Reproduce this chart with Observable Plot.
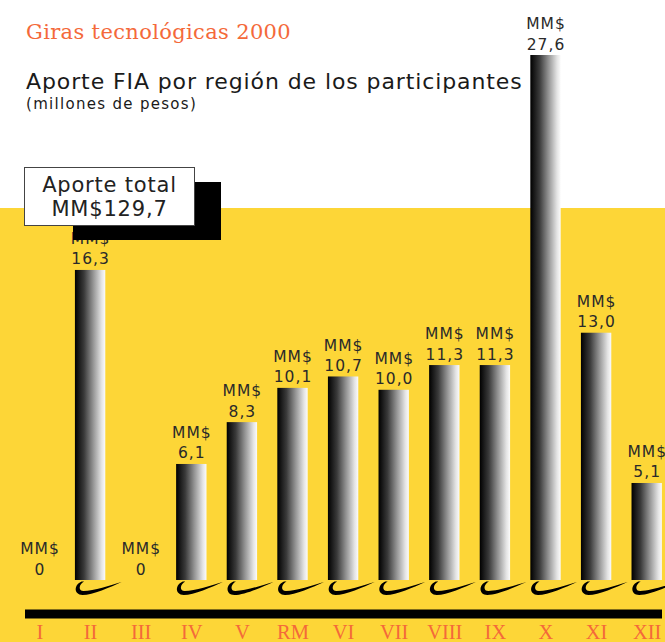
<!DOCTYPE html>
<html>
<head>
<meta charset="utf-8">
<script src="https://cdn.jsdelivr.net/npm/d3@7"></script>
<script src="https://cdn.jsdelivr.net/npm/@observablehq/plot@0.6"></script>
<style>
  body { margin: 0; background: #fff; }
  #wrap { position: relative; width: 665px; height: 642px; overflow: hidden; background: #fff; }
  #yellow { position: absolute; left: 0; top: 208px; width: 665px; height: 434px; background: #FDD637; }
  #wrap svg { position: absolute; left: 0; top: 0; }
  .abs { position: absolute; white-space: nowrap; line-height: 1; }
  #title { left: 26px; top: 22px; font-family: "DejaVu Serif", serif; font-size: 21px; letter-spacing: 0.35px; color: #F4693A; }
  #subtitle { left: 26px; top: 71px; font-family: "DejaVu Sans", sans-serif; font-size: 22px; letter-spacing: 0.9px; color: #1a1a1a; }
  #unit { left: 26px; top: 97px; font-family: "DejaVu Sans", sans-serif; font-size: 15px; letter-spacing: 1.3px; color: #1a1a1a; }
  #shadow { position: absolute; left: 73px; top: 182px; width: 148px; height: 58px; background: #000; }
  #box { position: absolute; left: 24px; top: 167px; width: 169px; background: #fff; border: 1px solid #444;
         font-family: "DejaVu Sans", sans-serif; font-size: 21px; color: #222; text-align: center; line-height: 24px;
         letter-spacing: 0.8px; padding-top: 5px; box-sizing: content-box; height: 52px; }
  .vlabel { letter-spacing: 1px; }
</style>
</head>
<body>
<div id="wrap">
  <div id="yellow"></div>
</div>
<script>
// ---- data ----
const regions = ["I","II","III","IV","V","RM","VI","VII","VIII","IX","X","XI","XII"];
const values  = [0, 16.3, 0, 6.1, 8.3, 10.1, 10.7, 10.0, 11.3, 11.3, 27.6, 13.0, 5.1];
const valueLabels = ["0","16,3","0","6,1","8,3","10,1","10,7","10,0","11,3","11,3","27,6","13,0","5,1"];
const unitPrefix = "MM$";
const titleText = "Giras tecnológicas 2000";
const subtitleText = "Aporte FIA por región de los participantes";
const unitText = "(millones de pesos)";
const totalLines = ["Aporte total", "MM$129,7"];

const data = regions.map((r, i) => ({region: r, value: values[i], label: valueLabels[i]}));

// swoosh symbol drawn under each bar
const swoosh = {
  draw(ctx) {
    ctx.moveTo(-9, 1);
    ctx.bezierCurveTo(-16.5, 4, -17.5, 14, -8, 14.5);
    ctx.bezierCurveTo(2, 14.5, 20, 6.5, 31, 1.5);
    ctx.bezierCurveTo(20, 4.5, 3, 10.5, -7, 10.5);
    ctx.bezierCurveTo(-12.5, 10.5, -12, 4, -6.5, 1);
    ctx.closePath();
  }
};

const orange = "#F4693A";

const chart = Plot.plot({
  width: 665,
  height: 642,
  marginTop: 0, marginBottom: 0, marginLeft: 25, marginRight: 3,
  style: {background: "transparent", overflow: "visible"},
  x: {type: "band", domain: regions, range: [14.2, 672], paddingInner: 0.4, paddingOuter: 0.2, align: 0.5, round: false, axis: null},
  y: {domain: [0, 27.6], range: [580, 55], axis: null},
  marks: [
    Plot.barY(data.filter(d => d.value > 0), {x: "region", y: "value", fill: "url(#barGrad)"}),
    Plot.dot(data.filter(d => d.value > 0), {x: "region", y: () => 0, symbol: swoosh, fill: "#000", stroke: null, r: 5}),
    Plot.text(data, {x: "region", y: "value", text: d => unitPrefix + "\n" + d.label, lineAnchor: "bottom", dy: -6,
      fontSize: 15.5, lineHeight: 1.3, fill: "#2a2a2a", fontFamily: "DejaVu Sans", className: "vlabel"}),
    Plot.ruleY([0], {dy: 33.5, strokeWidth: 9, stroke: "#000"}),
    Plot.text(regions, {x: d => d, frameAnchor: "bottom", lineAnchor: "middle", dy: -10,
      fontSize: 20.5, fill: orange, fontFamily: "Liberation Serif"})
  ]
});

// gradient definition for bars
const svg = d3.select(chart);
const grad = svg.insert("defs", ":first-child").append("linearGradient")
  .attr("id", "barGrad").attr("x1", 0).attr("x2", 1).attr("y1", 0).attr("y2", 0);
[[0, "#000"], [0.3, "#3a3a3a"], [0.6, "#949494"], [0.88, "#e4e4e4"], [1, "#fbfbfb"]]
  .forEach(([o, c]) => grad.append("stop").attr("offset", o).attr("stop-color", c));

const wrap = document.getElementById("wrap");
wrap.appendChild(chart);

function addDiv(id, cls, text) {
  const d = document.createElement("div");
  d.id = id; if (cls) d.className = cls;
  if (text != null) d.textContent = text;
  wrap.appendChild(d);
  return d;
}
addDiv("shadow", null, null);
const box = addDiv("box", null, null);
box.innerHTML = totalLines.join("<br>");
addDiv("title", "abs", titleText);
addDiv("subtitle", "abs", subtitleText);
addDiv("unit", "abs", unitText);
</script>
</body>
</html>
